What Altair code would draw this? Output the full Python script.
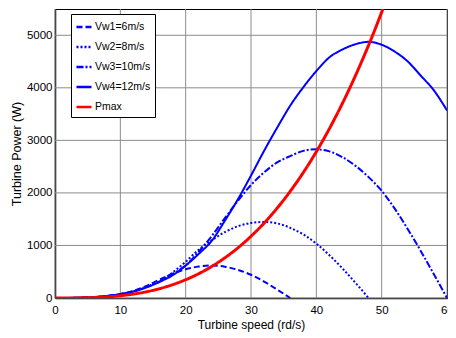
import altair as alt
import pandas as pd

# Turbine speed grid (rd/s)
speed = list(range(0, 61, 2))

# Turbine power (W)
vw1 = [0, 1, 5, 15, 38, 77, 134, 230, 350, 462, 548, 598, 618, 596, 535, 442, 312, 160, 0]
vw2 = [0, 1, 5, 15, 36, 72, 128, 210, 317, 485, 690, 920, 1100, 1255, 1365, 1428, 1446,
       1420, 1335, 1210, 1035, 815, 563, 287, 0]
vw3 = [0, 1, 6, 18, 38, 70, 126, 206, 314, 455, 620, 880, 1180, 1520, 1850, 2150, 2390,
       2580, 2700, 2800, 2830, 2790, 2680, 2515, 2300, 2040, 1700, 1310, 890, 450, 0]
vw4 = [0, 1, 7, 17, 40, 74, 121, 202, 306, 432, 617, 840, 1090, 1470, 1880, 2330, 2800,
       3240, 3660, 4010, 4320, 4580, 4730, 4830, 4875, 4820, 4690, 4500, 4230, 3950, 3570]
pmax_speed = list(range(0, 53, 2))
pmax = [0, 0.3, 2.8, 9.4, 22, 44, 75, 119, 178, 254, 348, 463, 601, 765, 955, 1175, 1425,
        1710, 2030, 2387, 2784, 3223, 3706, 4235, 4811, 5438, 6116]

x_ticks = list(range(0, 61, 10))
y_ticks = list(range(0, 5001, 1000))

names = ["Vw1=6m/s", "Vw2=8m/s", "Vw3=10m/s", "Vw4=12m/s", "Pmax"]
colors = ["#0000FF", "#0000FF", "#0000FF", "#0000FF", "#FF0000"]
dashes = [[6, 3], [2, 2], [7, 2, 2, 2], [1, 0], [1, 0]]

rows = []
for name, vals in zip(names[:4], [vw1, vw2, vw3, vw4]):
    for s, p in zip(speed, vals):
        rows.append({"speed": s, "power": p, "series": name})
blue_df = pd.DataFrame(rows)
red_df = pd.DataFrame({"speed": pmax_speed, "power": pmax, "series": "Pmax"})
xgrid_df = pd.DataFrame({"speed": x_ticks})
ygrid_df = pd.DataFrame({"power": y_ticks})

FONT = "Liberation Sans"
GRID = "#8c8c8c"

xscale = alt.Scale(domain=[0, 60], nice=False)
yscale = alt.Scale(domain=[0, 5500], nice=False)

x = alt.X("speed:Q", title="Turbine speed (rd/s)", scale=xscale,
          axis=alt.Axis(values=x_ticks, tickSize=0, labelPadding=6, titlePadding=4,
                        grid=False, format="d"))
y = alt.Y("power:Q", title="Turbine Power (W)", scale=yscale,
          axis=alt.Axis(values=y_ticks, tickSize=0, labelPadding=3, titlePadding=3,
                        grid=False, format="d", titleFontSize=12.5))
color = alt.Color("series:N", scale=alt.Scale(domain=names, range=colors),
                  legend=alt.Legend(title=None, orient="none", legendX=16, legendY=5,
                                    symbolType="stroke", symbolSize=225,
                                    symbolStrokeWidth=2.5, labelOffset=2, rowPadding=5,
                                    padding=4, strokeColor="black", fillColor="white",
                                    labelFont=FONT, labelFontSize=10.5, labelColor="black"))
dash = alt.StrokeDash("series:N", scale=alt.Scale(domain=names, range=dashes),
                      legend=alt.Legend(title=None, orient="none", legendX=16, legendY=5))

xgrid = alt.Chart(xgrid_df).mark_rule(color=GRID, strokeWidth=1).encode(x=x)
ygrid = alt.Chart(ygrid_df).mark_rule(color=GRID, strokeWidth=1).encode(y=y)

blue = alt.Chart(blue_df).mark_line(strokeWidth=2, interpolate="monotone", clip=True).encode(
    x=x, y=y, color=color, strokeDash=dash, detail="series:N")
red = alt.Chart(red_df).mark_line(strokeWidth=3, interpolate="monotone", clip=True).encode(
    x=x, y=y, color=color, strokeDash=dash)

chart = alt.layer(xgrid, ygrid, blue, red).properties(
    width=392, height=289,
    autosize=alt.AutoSizeParams(type="none"),
    padding={"left": 47, "top": 1, "right": 1, "bottom": 38},
).configure_view(stroke="black", strokeWidth=1).configure_axis(
    domainColor="black", domainWidth=1.5,
    labelFont=FONT, labelFontSize=11.5, labelColor="black",
    titleFont=FONT, titleFontSize=12, titleFontWeight="normal", titleColor="black",
).configure_axisX(labelFlush=False)

chart.save("out.html", embed_options={"renderer": "svg", "actions": False})
